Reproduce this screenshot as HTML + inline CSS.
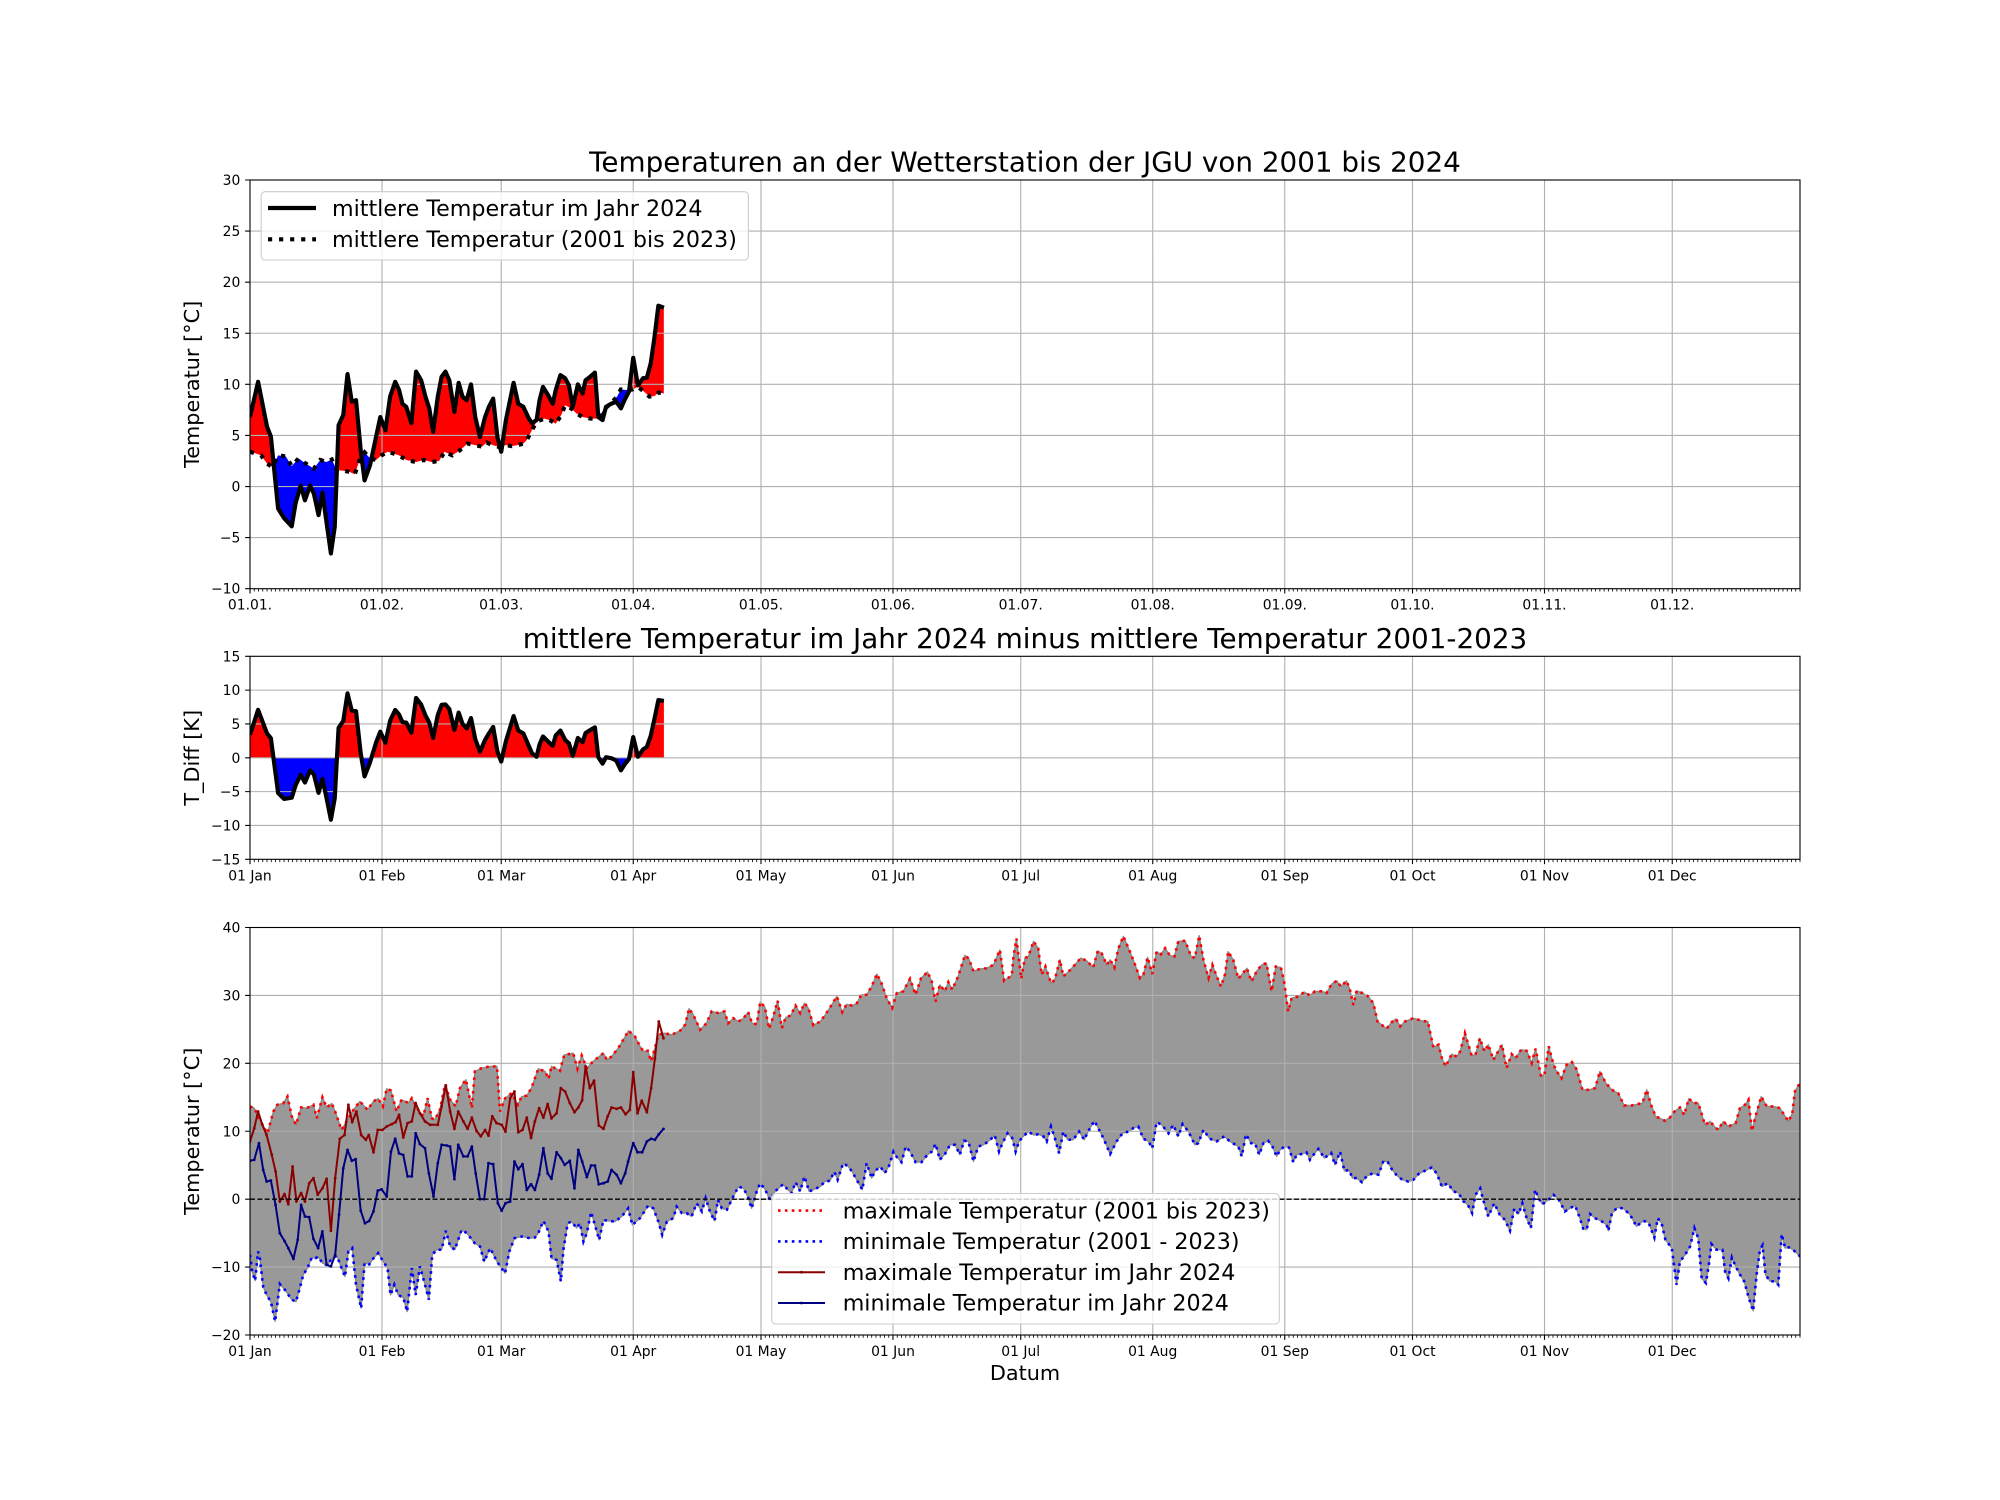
<!DOCTYPE html>
<html><head><meta charset="utf-8">
<style>
html,body{margin:0;padding:0;background:#fff;}
svg{display:block;}
text{font-family:"DejaVu Sans","Liberation Sans",sans-serif;fill:#000;}
.tk{font-size:13.9px;}
.lg{font-size:22.2px;}
.lb{font-size:20.8px;}
.tt{font-size:27.8px;}
</style></head>
<body>
<svg id="s" width="2000" height="1500" viewBox="0 0 2000 1500" xmlns="http://www.w3.org/2000/svg">
<rect width="2000" height="1500" fill="#fff"/>
<defs id="defs">
<clipPath id="ca1"><rect x="250" y="180" width="1550" height="408.7"/></clipPath>
<clipPath id="ca2"><rect x="250" y="656.3" width="1550" height="203"/></clipPath>
<clipPath id="ca3"><rect x="250" y="927.5" width="1550" height="407.5"/></clipPath>
</defs>
<g id="plot"></g>

<!-- Legend axis 1 -->
<rect x="261.2" y="191.7" width="487.2" height="68.3" rx="4" fill="#fff" fill-opacity="0.8" stroke="#cccccc" stroke-width="1.1"/>
<line x1="268" y1="208" x2="316" y2="208" stroke="#000" stroke-width="4.2"/>
<line x1="268" y1="239.3" x2="316" y2="239.3" stroke="#000" stroke-width="4.2" stroke-dasharray="4.17 6.88"/>
<text class="lg" x="332" y="216">mittlere Temperatur im Jahr 2024</text>
<text class="lg" x="332" y="247">mittlere Temperatur (2001 bis 2023)</text>

<!-- Legend axis 3 -->
<rect x="771.7" y="1193.5" width="507.6" height="130.5" rx="4" fill="#fff" fill-opacity="0.8" stroke="#cccccc" stroke-width="1.1"/>
<line x1="778" y1="1210.6" x2="825" y2="1210.6" stroke="#ff0000" stroke-width="2.6" stroke-dasharray="2.6 4.3"/>
<line x1="778" y1="1241.4" x2="825" y2="1241.4" stroke="#0000ff" stroke-width="2.6" stroke-dasharray="2.6 4.3"/>
<line x1="778" y1="1272.2" x2="825" y2="1272.2" stroke="#8b0000" stroke-width="2"/>
<circle cx="801.5" cy="1272.2" r="1.4" fill="#8b0000"/>
<line x1="778" y1="1303" x2="825" y2="1303" stroke="#000080" stroke-width="2"/>
<circle cx="801.5" cy="1303" r="1.4" fill="#000080"/>
<text class="lg" x="842.7" y="1218.3">maximale Temperatur (2001 bis 2023)</text>
<text class="lg" x="842.7" y="1249.1">minimale Temperatur (2001 - 2023)</text>
<text class="lg" x="842.7" y="1279.9">maximale Temperatur im Jahr 2024</text>
<text class="lg" x="842.7" y="1310.7">minimale Temperatur im Jahr 2024</text>

<!-- Titles -->
<text class="tt" x="1025" y="171.7" text-anchor="middle">Temperaturen an der Wetterstation der JGU von 2001 bis 2024</text>
<text class="tt" x="1025" y="648" text-anchor="middle">mittlere Temperatur im Jahr 2024 minus mittlere Temperatur 2001-2023</text>

<!-- Y labels -->
<text class="lb" transform="translate(199,384.35) rotate(-90)" text-anchor="middle">Temperatur [°C]</text>
<text class="lb" transform="translate(199,757.8) rotate(-90)" text-anchor="middle">T_Diff [K]</text>
<text class="lb" transform="translate(199,1131.25) rotate(-90)" text-anchor="middle">Temperatur [°C]</text>
<text class="lb" x="1025" y="1380" text-anchor="middle">Datum</text>

<!-- Y tick labels axis 1 -->
<g class="tk" text-anchor="end">
<text x="240.3" y="185">30</text>
<text x="240.3" y="236.1">25</text>
<text x="240.3" y="287.2">20</text>
<text x="240.3" y="338.3">15</text>
<text x="240.3" y="389.4">10</text>
<text x="240.3" y="440.4">5</text>
<text x="240.3" y="491.5">0</text>
<text x="240.3" y="542.6">−5</text>
<text x="240.3" y="593.7">−10</text>
<!-- axis 2 -->
<text x="240.3" y="661.3">15</text>
<text x="240.3" y="695.1">10</text>
<text x="240.3" y="729">5</text>
<text x="240.3" y="762.8">0</text>
<text x="240.3" y="796.6">−5</text>
<text x="240.3" y="830.5">−10</text>
<text x="240.3" y="864.3">−15</text>
<!-- axis 3 -->
<text x="240.3" y="932.5">40</text>
<text x="240.3" y="1000.4">30</text>
<text x="240.3" y="1068.3">20</text>
<text x="240.3" y="1136.3">10</text>
<text x="240.3" y="1204.2">0</text>
<text x="240.3" y="1272.1">−10</text>
<text x="240.3" y="1340">−20</text>
</g>

<!-- X tick labels -->
<g class="tk" text-anchor="middle">
<text x="250" y="609.7">01.01.</text>
<text x="382" y="609.7">01.02.</text>
<text x="501.2" y="609.7">01.03.</text>
<text x="633.2" y="609.7">01.04.</text>
<text x="761" y="609.7">01.05.</text>
<text x="893" y="609.7">01.06.</text>
<text x="1020.7" y="609.7">01.07.</text>
<text x="1152.7" y="609.7">01.08.</text>
<text x="1284.8" y="609.7">01.09.</text>
<text x="1412.5" y="609.7">01.10.</text>
<text x="1544.5" y="609.7">01.11.</text>
<text x="1672.2" y="609.7">01.12.</text>

<text x="250" y="880.3">01 Jan</text>
<text x="382" y="880.3">01 Feb</text>
<text x="501.2" y="880.3">01 Mar</text>
<text x="633.2" y="880.3">01 Apr</text>
<text x="761" y="880.3">01 May</text>
<text x="893" y="880.3">01 Jun</text>
<text x="1020.7" y="880.3">01 Jul</text>
<text x="1152.7" y="880.3">01 Aug</text>
<text x="1284.8" y="880.3">01 Sep</text>
<text x="1412.5" y="880.3">01 Oct</text>
<text x="1544.5" y="880.3">01 Nov</text>
<text x="1672.2" y="880.3">01 Dec</text>

<text x="250" y="1356">01 Jan</text>
<text x="382" y="1356">01 Feb</text>
<text x="501.2" y="1356">01 Mar</text>
<text x="633.2" y="1356">01 Apr</text>
<text x="761" y="1356">01 May</text>
<text x="893" y="1356">01 Jun</text>
<text x="1020.7" y="1356">01 Jul</text>
<text x="1152.7" y="1356">01 Aug</text>
<text x="1284.8" y="1356">01 Sep</text>
<text x="1412.5" y="1356">01 Oct</text>
<text x="1544.5" y="1356">01 Nov</text>
<text x="1672.2" y="1356">01 Dec</text>
</g>
</svg>
<script>
(function(){
var NS="http://www.w3.org/2000/svg";
var plot=document.getElementById("plot");
var defs=document.getElementById("defs");
function X(d){return 250+d*1550/364;}
function Y1(v){return 180+(30-v)*408.7/40;}
function Y2(v){return 656.3+(15-v)*203/30;}
function Y3(v){return 927.5+(40-v)*407.5/60;}
function el(p,tag,a){var e=document.createElementNS(NS,tag);for(var k in a)e.setAttribute(k,a[k]);p.appendChild(e);return e;}
function pts(a,Y){return a.map(function(p){return X(p[0]).toFixed(2)+","+Y(p[1]).toFixed(2);});}
function line(a,Y){return "M"+pts(a,Y).join("L");}
function interp(a,d){if(d<=a[0][0])return a[0][1];for(var i=1;i<a.length;i++){if(d<=a[i][0]){var t=(d-a[i-1][0])/(a[i][0]-a[i-1][0]);return a[i-1][1]+t*(a[i][1]-a[i-1][1]);}}return a[a.length-1][1];}
var months=[0,31,59,90,120,151,181,212,243,273,304,334];

var blk=[[0,6.8],[1.9,10.25],[4,5.85],[4.9,4.9],[6.6,-2.15],[8,-3.1],[9.8,-3.9],[10.7,-1.65],[11.9,0.1],[12.9,-1.35],[14.1,0.1],[15,-0.7],[16.1,-2.8],[17,-0.6],[17.9,-3.3],[19,-6.55],[19.9,-3.95],[20.8,6.0],[21.9,7.0],[22.9,11.0],[23.9,8.3],[24.9,8.45],[26,3.55],[26.9,0.6],[28.2,2.1],[29.6,4.85],[30.6,6.8],[31.8,5.5],[32.9,8.8],[34.1,10.25],[35,9.45],[35.8,8.1],[36.7,7.8],[37.9,6.2],[39,11.25],[40.2,10.4],[41.2,8.8],[42.1,7.65],[43,5.35],[44.1,8.8],[45,10.75],[45.9,11.25],[46.8,10.4],[48,7.3],[49,10.15],[49.9,8.8],[50.9,8.45],[51.9,10],[52.9,6.8],[54,4.85],[55.2,6.8],[56.1,7.8],[57.1,8.6],[58.1,4.85],[59,3.4],[60.1,6.5],[61.9,10.15],[63,8.1],[64.2,7.8],[65.3,6.8],[66.2,6.2],[67.3,6.5],[68,8.45],[68.8,9.75],[70,8.95],[71.1,8.1],[71.8,9.45],[72.9,10.9],[74,10.6],[74.9,9.9],[75.8,7.8],[77,10],[78.1,9.1],[78.8,10.4],[79.9,10.75],[81,11.15],[81.8,6.8],[82.8,6.5],[83.6,7.8],[84.8,8.1],[86,8.3],[87.1,7.65],[88,8.5],[89,9.3],[90,12.6],[91.1,9.9],[92.3,10.6],[93.2,10.65],[94.1,12.05],[95,14.65],[95.9,17.7],[97.2,17.5]];
var cm=[[0,3.4],[1.3,3.25],[2.6,3.05],[4,2.25],[5.3,1.9],[6.6,3.05],[8.4,2.95],[9.8,2.0],[11.4,2.75],[12.9,2.3],[15,1.75],[16.5,2.6],[17.9,2.4],[19.2,2.65],[20.4,1.6],[21.9,1.55],[23.3,1.45],[24.6,1.2],[26,2.9],[26.9,3.35],[28.2,2.75],[29.6,2.6],[30.9,3.05],[32.3,3.4],[33.6,3.25],[35,3.05],[36.7,2.6],[39,2.4],[40.8,2.6],[42.6,2.4],[44.4,2.5],[45.7,3.4],[47.5,3.05],[49.3,3.55],[51.1,4.2],[52.9,4.05],[54.5,3.9],[55.6,4.3],[57,4.05],[58.3,3.9],[60.1,4.05],[61.5,3.95],[62.8,4.05],[64.2,4.2],[65,4.55],[66,5.35],[67.3,6.35],[69.1,6.65],[70.4,6.5],[71.8,6.15],[73.1,7.0],[74,7.95],[75.4,7.65],[76.7,7.15],[78.1,6.8],[79.9,6.65],[81.7,6.65],[83,7.5],[84.8,8.15],[86.2,8.8],[87.1,9.5],[88.4,9.45],[89.8,9.5],[91.1,9.75],[92.5,9.3],[93.8,8.8],[95,8.85],[96,9.2],[97.2,9.1]];

var cmax=[[0,13.65],[1,13.4],[2.3,11.7],[3.4,10.45],[4.1,9.7],[5.5,12.9],[6.4,13.9],[7.8,14.1],[8.8,15.1],[9.8,12.2],[10.8,10.95],[12,13.5],[13.3,13.4],[14.9,13.9],[15.7,11.9],[17,15.0],[18,13.5],[19.2,14.1],[20,12.9],[21.5,10.2],[22.7,11.45],[24,12.9],[25.8,14.4],[27.6,13.15],[29,14.4],[30.1,14.8],[31.2,13.65],[32.1,16.25],[33.1,16.0],[34.4,12.9],[35.6,14.65],[37.2,14.15],[38,14.85],[39.5,13.15],[40.7,12.2],[41.7,14.85],[42.7,11.9],[43.4,11.7],[44.6,13.15],[45.8,16.85],[47,14.65],[48.3,13.65],[49.3,16.35],[50.7,17.6],[52.1,13.4],[52.8,18.8],[54.4,19.3],[56.4,19.55],[58,19.55],[58.7,12.9],[59.9,14.85],[61.4,15.6],[62.9,13.9],[63.8,15.1],[65,15.25],[66.1,16.35],[67.7,19.2],[69.3,18.8],[70.1,17.7],[70.8,19.55],[72.8,18.9],[73.8,21.25],[74.8,21.35],[75.9,21.5],[76.9,19.2],[77.9,21.15],[79.1,19.3],[80.6,20.3],[83,21.5],[83.8,20.5],[84.9,21.0],[86.5,22.25],[88.9,24.8],[90.4,23.95],[91.6,22.5],[92.4,21.75],[93.4,21.85],[94.2,20.3],[95.1,22.25],[95.9,24.2],[97.3,24.45],[99,24.2],[101,24.8],[102.2,25.7],[103.1,28.05],[104.1,27.15],[105.7,24.95],[107.2,25.9],[108.4,27.65],[110,27.4],[111.4,27.65],[112.3,25.9],[113.5,26.65],[114.7,26.15],[115.9,26.65],[117,27.55],[117.9,25.9],[119,25.75],[119.8,29.0],[120.9,28.3],
[121.9,25.1],[122.9,26.9],[123.9,29.2],[124.9,25.2],[125.8,26.75],[127,27.05],[128.1,28.5],[129.2,27.4],[130.2,28.85],[131.1,28.15],[132.3,25.6],[133.9,26.15],[135,27.05],[136.6,28.6],[137.8,29.85],[139.1,27.55],[140.1,28.7],[141.4,28.5],[142.5,28.85],[143.6,30.1],[144.8,30.1],[146,31.3],[147.2,33.15],[148.3,31.8],[149.5,29.6],[150.8,28.15],[151.9,30.35],[153.4,30.6],[155,32.45],[156.3,30.1],[157.6,32.55],[159.1,33.45],[160.1,32.05],[161,29.1],[162,31.55],[163.2,30.6],[164,31.95],[164.9,30.85],[166.3,32.8],[167.9,35.9],[168.8,35.4],[169.9,33.55],[171.4,33.9],[173,34.0],[174.6,34.5],[176.1,36.7],[177.1,32.15],[178.9,32.95],[179.3,35.75],[180,38.35],[181.1,32.45],[182,35.5],[182.8,35.75],[184,37.95],[185.1,36.95],[185.9,33.05],[186.8,34.25],[188.1,31.8],[189,32.3],[190.2,35.25],[191,32.8],[192.3,33.55],[193.7,34.5],[195.1,35.5],[196.5,35.1],[198,34.1],[199.1,36.55],[200,36.2],[201.2,34.5],[202,35.25],[203,34.1],[203.9,36.85],[205.1,38.7],[206.3,36.95],[207.4,35.25],[209,32.55],[209.8,33.05],[210.8,35.6],[211.9,33.15],[212.9,36.45],[213.9,36.05],[214.9,36.95],[216,35.9],[217.1,35.75],[218,37.95],[219.6,38.05],[221,35.75],[221.9,35.5],[222.9,38.8],[223.9,35.25],[225.1,32.55],[226,34.5],[226.8,33.15],[228,31.3],[229,33.15],[229.7,36.45],[230.9,35.25],[232.1,32.45],[232.9,33.05],[234.1,34.0],[235.2,32.05],[236.4,33.55],[237.6,34.5],[238.7,34.75],[239.9,30.6],[240.9,34.25],[242.1,34.1],[242.9,31.8],
[243.8,27.65],[244.6,29.6],[246.2,29.85],[247.6,30.5],[248.9,30.0],[250.1,30.6],[251.7,30.6],[252.8,30.35],[254,31.65],[255.2,32.15],[256.2,31.3],[257.5,32.15],[258.3,30.85],[259.1,28.6],[259.9,30.7],[261.2,30.35],[262.6,29.85],[263.8,28.85],[264.8,26.15],[265.8,25.65],[266.9,25.1],[268.1,26.05],[269.1,26.55],[270.1,25.45],[271.2,26.15],[273.2,26.65],[275.2,26.25],[276.6,26.15],[277.9,22.35],[279.1,22.75],[279.9,20.75],[280.8,19.55],[282.2,21.35],[283.4,21.0],[284.2,21.75],[285.3,24.45],[286.9,21.15],[287.8,21.25],[288.8,23.7],[289.9,21.75],[290.8,22.75],[292,20.5],[294,22.75],[295.1,19.3],[296.3,21.35],[297.2,20.75],[298.5,22.0],[299.8,21.85],[301,20.05],[301.9,22.15],[303.2,18.05],[304,18.4],[305,22.5],[305.7,20.75],[306.6,19.05],[308,17.8],[309.2,19.8],[310.4,20.2],[311.6,19.05],[312.9,16.1],[314.3,16.1],[315.9,16.35],[317,18.8],[318.4,17.1],[319.8,16.1],[321.3,15.6],[322.7,13.8],[324.5,13.8],[325.9,14.0],[327,14.15],[328,16.1],[329,13.9],[330.1,12.2],[332.3,11.55],[333.5,12.05],[334.5,12.9],[335.8,13.5],[336.8,12.4],[337.9,14.8],[339,14.15],[340.1,14.15],[341.7,10.95],[342.9,11.45],[343.9,10.7],[344.8,10.2],[346,11.45],[347.2,10.7],[348.9,11.2],[349.9,13.4],[351.1,13.9],[351.9,14.65],[352.7,10.05],[353.5,12.05],[354.9,15.1],[356.2,13.65],[357.8,13.65],[359.3,13.4],[360.5,12.2],[361.3,11.45],[362.2,12.65],[362.8,15.85],[363.6,16.75],[364.1,16.85]];

var cmin=[[0,-8.2],[0.5,-10.65],[1.2,-12.0],[1.9,-7.7],[2.3,-8.7],[3.1,-12.9],[3.9,-14.1],[4.9,-15.1],[5.9,-18.0],[6.4,-15.55],[7,-12.5],[8.2,-13.35],[9.8,-14.8],[10.8,-15.1],[11.7,-13.1],[12.5,-11.15],[13.5,-10.15],[14.5,-8.6],[15.4,-8.7],[16,-8.45],[17,-9.4],[18.2,-9.75],[19.2,-8.7],[20.4,-8.35],[21.5,-10.15],[22.3,-11.4],[23.1,-7.7],[24,-7.2],[24.9,-12.6],[26.1,-16.05],[26.9,-9.4],[28,-9.6],[29,-8.7],[30.1,-7.95],[31.3,-9.2],[32.3,-10.15],[33,-14.1],[33.9,-12.6],[34.8,-14.1],[36,-14.5],[36.9,-16.55],[38,-10.15],[38.9,-14.1],[39.9,-9.9],[41.1,-12.6],[42,-14.8],[42.8,-8.2],[43.8,-7.45],[45,-7.45],[46,-4.65],[47,-6.95],[48.1,-7.45],[49.7,-4.5],[50.9,-5.0],[52.8,-6.5],[54,-6.95],[55,-9.2],[56.4,-7.2],[58,-9.2],[59.9,-10.9],[60.9,-7.7],[62.1,-5.75],[63.8,-5.5],[65.8,-5.75],[66.9,-5.65],[67.7,-5.0],[68.9,-3.2],[70.1,-4.75],[70.8,-8.7],[72,-8.95],[73,-12.1],[73.6,-7.45],[74.6,-3.55],[75.5,-3.3],[76.7,-4.25],[77.5,-3.55],[78.3,-6.25],[79.1,-5.0],[80.1,-1.9],[81,-3.8],[82,-6.0],[83,-3.05],[84.1,-3.2],[85.7,-3.3],[87.3,-2.55],[88.8,-1.35],[89.8,-3.8],[91.6,-2.8],[93.5,-0.95],[94.7,-1.35],[95.9,-3.3],[96.8,-5.25],[97.9,-3.3],[99.4,-2.8],[100.2,-1.1],[101.4,-2.05],[102.5,-2.05],[103.7,-2.55],[104.9,-0.6],[106.1,-1.8],[107,0.15],[108,-1.8],[109.1,-3.2],[109.9,-0.1],[110.8,-1.35],[112,-1.55],[113.3,0.15],[114.7,1.85],[115.9,1.6],[116.9,0.4],[117.8,-1.35],[119,1.15],[119.8,2.35],[120.9,1.5],
[122.1,-0.1],[123.3,1.15],[125.2,2.2],[126.3,1.4],[127.2,0.9],[128.1,2.5],[129.2,1.15],[130.2,3.35],[131.3,1.15],[132.3,1.4],[133.9,1.85],[135,2.6],[136.2,2.7],[137.2,4.05],[138,2.85],[139.3,5.3],[140.5,4.8],[141.4,4.05],[142.7,2.6],[143.8,1.4],[144.8,5.3],[146,3.1],[146.8,4.15],[148,4.8],[149.1,3.85],[150.1,4.95],[151.1,7.0],[151.9,6.2],[153,5.45],[154,7.75],[155,7.0],[156.3,5.45],[157.7,5.45],[159.1,6.55],[160.1,7.0],[161,8.15],[162,5.8],[163.2,6.65],[164.4,8.0],[165.6,8.0],[166.7,6.55],[167.7,8.6],[168.7,8.5],[169.9,5.55],[171,7.75],[172.2,8.0],[173.4,8.5],[174.9,9.4],[175.9,7.0],[176.7,8.25],[177.9,9.7],[179,9.0],[179.8,7.0],[180.6,8.5],[181.6,9.25],[182.8,9.95],[184,9.45],[185.1,9.55],[186.3,9.25],[187.1,8.5],[188.1,10.7],[189,9.0],[190,6.75],[191,9.95],[192,8.75],[193.3,8.75],[194.7,9.95],[195.9,8.75],[196.9,10.05],[198.3,11.55],[199.2,10.45],[200.4,9.0],[202,6.65],[203.5,8.5],[204.9,9.7],[206.3,9.95],[207.4,10.45],[208.6,10.7],[209.8,8.9],[211,8.5],[211.9,7.5],[212.9,11.35],[214.1,10.95],[215.7,9.7],[216.8,10.95],[218,9.25],[219,11.05],[220.4,9.95],[221.9,8.0],[222.7,8.25],[223.9,10.2],[225.4,8.9],[227,8.5],[228.8,9.25],[230.1,8.5],[232.1,7.75],[232.9,6.3],[233.9,9.55],[235.1,8.25],[236,8.25],[237,6.55],[238,8.25],[239.1,8.6],[240.1,7.75],[241.1,6.3],[241.9,7.25],[242.9,7.75],
[244,7.6],[245,5.45],[245.8,6.55],[247,6.65],[248.1,6.9],[248.9,5.8],[249.9,6.65],[250.9,7.4],[252.3,6.05],[253.9,6.8],[254.8,5.05],[256,7.0],[257,4.15],[258.1,4.3],[258.9,3.1],[259.9,3.1],[261.1,2.5],[262.2,3.35],[263.6,3.8],[265,3.6],[266.2,5.65],[267.2,5.45],[268.1,4.45],[269.3,3.5],[270.6,2.85],[272,2.6],[273.2,2.85],[274.4,3.7],[275.8,4.15],[277.5,4.65],[278.7,3.8],[279.9,1.85],[281.3,2.35],[282.6,1.15],[283.8,0.9],[285,-0.35],[286,-0.85],[287,-2.05],[287.8,0.65],[288.9,1.6],[289.6,-0.1],[290.8,-2.55],[292.2,-0.6],[293.5,-2.3],[294.7,-3.05],[295.9,-4.65],[296.9,-1.35],[297.9,-2.2],[298.8,-0.6],[299.8,-2.8],[300.8,-4.25],[301.8,1.4],[302.6,0.15],[303.5,-0.75],[304.9,-0.1],[306.1,0.65],[307.4,-0.1],[308.8,-1.8],[310.2,-1.25],[311.2,-0.95],[312.3,-2.8],[313.1,-4.35],[313.9,-4.5],[314.7,-2.2],[315.9,-2.8],[317.3,-3.2],[318.6,-3.8],[319,-4.65],[319.8,-2.2],[321,-1.25],[322.5,-1.35],[324.1,-2.3],[325.6,-4.0],[327.2,-3.2],[328.4,-3.4],[329.8,-5.65],[330.6,-2.8],[331.5,-3.55],[332.4,-6.0],[333.9,-7.2],[334.5,-10.15],[335,-12.6],[335.8,-9.2],[337,-8.2],[338.2,-6.95],[339.2,-4.25],[340.1,-5.75],[340.9,-11.65],[341.9,-12.35],[342.6,-9.65],[343.2,-6.6],[344.4,-7.45],[345.8,-7.45],[346.4,-10.65],[347.2,-11.65],[348,-8.6],[348.7,-9.65],[349.7,-10.9],[350.9,-12.1],[352,-14.6],[353,-16.45],[353.8,-11.15],[354.6,-7.45],[355.2,-6.8],[355.9,-11.15],[357,-12.1],[358.2,-12.1],[358.9,-12.6],[359.7,-5.15],[360.5,-7.2],[361.4,-7.1],[362.4,-7.45],[363.6,-8.2],[364.1,-8.45]];

var mx24=[[0,8.5],[1,10.45],[1.9,12.9],[2.9,10.95],[3.9,9.45],[5.1,6.55],[6,4.1],[7,-0.35],[8.1,0.75],[9,-0.75],[10,4.8],[10.9,-0.35],[12,0.9],[12.9,-0.35],[13.9,2.35],[14.9,3.1],[15.9,0.65],[17,1.6],[18,3.0],[19,-4.65],[20,3.1],[21.1,8.9],[22.2,9.45],[23.1,13.9],[24,11.35],[25,12.9],[26.1,9.45],[27.2,8.75],[27.9,9.45],[29,6.9],[30,10.2],[31.1,10.2],[32.1,10.7],[33.3,11.05],[34.2,11.35],[35,12.4],[36,9.1],[37,11.2],[38,11.45],[38.9,14.15],[39.9,12.65],[41.1,11.45],[42.3,10.95],[44.1,10.95],[45,13.65],[46,16.75],[47,12.9],[48,10.35],[48.9,12.9],[50.1,11.45],[51.1,10.35],[52.1,12.0],[53.2,10.05],[54.2,9.25],[55.2,10.2],[56,9.35],[56.9,12.2],[57.9,11.2],[59.1,10.95],[60,9.95],[61.1,14.9],[62.1,15.85],[63,9.85],[64,10.2],[65,12.0],[66,9.0],[66.9,11.45],[67.9,13.4],[68.9,12.0],[69.9,14.0],[70.8,11.9],[72,12.65],[73,16.35],[74,15.85],[75.1,14.15],[76.2,12.8],[77.1,13.5],[78,14.55],[78.8,19.55],[79.8,16.35],[80.8,17.45],[81.9,10.85],[83,10.35],[84,12.2],[84.9,13.5],[86.1,13.3],[87.1,13.5],[88.2,12.5],[89.2,13.15],[90,18.7],[91,12.65],[92,14.5],[93.2,12.8],[94.2,16.35],[95.1,20.75],[96,26.15],[97.1,23.7]];
var mn24=[[0,5.65],[1,5.8],[2.1,8.25],[3.1,4.3],[3.9,2.6],[4.9,2.75],[6,-0.85],[7,-5.0],[8.1,-6.15],[9,-7.2],[10.2,-8.8],[11.2,-6.0],[12,-0.85],[12.9,-2.55],[13.9,-2.65],[14.9,-5.85],[16,-7.2],[17,-4.75],[18,-9.65],[19,-9.9],[20,-8.2],[20.9,-2.3],[21.9,4.55],[22.9,7.25],[23.9,5.65],[24.8,5.9],[26,-1.7],[27,-3.55],[28,-3.2],[29,-1.8],[30,1.25],[30.9,1.45],[32.1,0.4],[33.1,7.0],[34.1,8.9],[35,6.75],[36,6.5],[37,3.35],[38,3.35],[38.9,9.7],[39.9,8.1],[41.1,7.5],[42,3.8],[43.1,0.4],[44.1,5.3],[45,8.0],[46.2,7.9],[47,7.75],[48,2.95],[48.9,8.0],[50.1,6.3],[51.1,6.3],[52.1,7.75],[53,3.8],[54,0.0],[55,0.0],[56,5.3],[57.1,5.15],[58.2,-0.6],[59.1,-1.7],[60,-0.6],[61.1,-0.35],[62.1,5.55],[63,4.4],[64,5.15],[65,1.35],[66,2.2],[66.9,1.35],[67.9,3.6],[68.9,7.5],[69.9,3.8],[70.8,3.0],[72,6.9],[73,6.05],[73.9,5.05],[75.1,5.65],[76.2,1.6],[77.1,7.25],[78,5.55],[79.1,3.25],[80.1,4.95],[81,4.95],[81.9,2.2],[83,2.35],[84,2.6],[84.9,4.3],[86.1,3.6],[87.1,2.35],[88.1,3.8],[88.8,5.55],[90,8.25],[91,6.9],[92.1,6.9],[93.2,8.5],[94.2,8.9],[95.1,8.75],[96,9.55],[97.1,10.35]];

function f(n){return n.toFixed(2);}
function grid(g,ys,yTop,yBot){
  var d="";
  months.forEach(function(m){if(m>0)d+="M"+f(X(m))+","+yTop+"V"+yBot;});
  ys.forEach(function(y){d+="M250,"+f(y)+"H1800";});
  el(g,"path",{d:d,stroke:"#b0b0b0","stroke-width":"1.1",fill:"none"});
}
function frame(g,yTop,yBot,yts){
  el(g,"rect",{x:250,y:yTop,width:1550,height:yBot-yTop,fill:"none",stroke:"#000","stroke-width":"1.1"});
  var dmin="",dmaj="";
  for(var d=0;d<=364;d++){ if(months.indexOf(d)>=0) continue; dmin+="M"+f(X(d))+","+yBot+"v2.78";}
  months.forEach(function(m){dmaj+="M"+f(X(m))+","+yBot+"v4.86";});
  yts.forEach(function(y){dmaj+="M250,"+f(y)+"h-4.86";});
  el(g,"path",{d:dmin,stroke:"#000","stroke-width":"0.83",fill:"none"});
  el(g,"path",{d:dmaj,stroke:"#000","stroke-width":"1.1",fill:"none"});
}
function clip(id,d){var c=el(defs,"clipPath",{id:id});el(c,"path",{d:d});}

/* ---------- Axis 1 ---------- */
var g1=el(plot,"g",{"clip-path":"url(#ca1)"});
var b0=f(X(blk[0][0])),bL=f(X(blk[blk.length-1][0]));
var c0=f(X(cm[0][0])),cL=f(X(cm[cm.length-1][0]));
clip("aboveClim",line(cm,Y1)+"L"+cL+",170L"+c0+",170Z");
clip("aboveBlk",line(blk,Y1)+"L"+bL+",170L"+b0+",170Z");
el(g1,"path",{d:line(blk,Y1)+"L"+bL+",600L"+b0+",600Z",fill:"#ff0000","clip-path":"url(#aboveClim)"});
el(g1,"path",{d:line(cm,Y1)+"L"+cL+",600L"+c0+",600Z",fill:"#0000ff","clip-path":"url(#aboveBlk)"});
var ys1=[];for(var v=25;v>=-5;v-=5)ys1.push(Y1(v));
grid(g1,ys1,180,588.7);
el(g1,"path",{d:line(cm,Y1),fill:"none",stroke:"#000","stroke-width":"4.17","stroke-dasharray":"4.17 6.88"});
el(g1,"path",{d:line(blk,Y1),fill:"none",stroke:"#000","stroke-width":"4.17","stroke-linejoin":"round"});
var yt1=[];for(var v=30;v>=-10;v-=5)yt1.push(Y1(v));
frame(plot,180,588.7,yt1);

/* ---------- Axis 2 ---------- */
var g2=el(plot,"g",{"clip-path":"url(#ca2)"});
var dif=blk.map(function(p){return [p[0],p[1]-interp(cm,p[0])];});
var y0=Y2(0);
var dd=line(dif,Y2);
var cpPos=el(defs,"clipPath",{id:"pos2"});el(cpPos,"rect",{x:240,y:640,width:1600,height:y0-640});
var cpNeg=el(defs,"clipPath",{id:"neg2"});el(cpNeg,"rect",{x:240,y:y0,width:1600,height:880-y0});
el(g2,"path",{d:dd+"L"+bL+",880L"+b0+",880Z",fill:"#ff0000","clip-path":"url(#pos2)"});
el(g2,"path",{d:dd+"L"+bL+",640L"+b0+",640Z",fill:"#0000ff","clip-path":"url(#neg2)"});
var ys2=[];for(var v=10;v>=-10;v-=5)ys2.push(Y2(v));
grid(g2,ys2,656.3,859.3);
el(g2,"path",{d:dd,fill:"none",stroke:"#000","stroke-width":"4.17","stroke-linejoin":"round"});
var yt2=[];for(var v=15;v>=-15;v-=5)yt2.push(Y2(v));
frame(plot,656.3,859.3,yt2);

/* ---------- Axis 3 ---------- */
var g3=el(plot,"g",{"clip-path":"url(#ca3)"});
var rev=cmin.slice().reverse();
el(g3,"path",{d:line(cmax,Y3)+"L"+pts(rev,Y3).join("L")+"Z",fill:"#999999",stroke:"#868686","stroke-width":"1.3","stroke-linejoin":"round"});
var ys3=[];for(var v=30;v>=-10;v-=10)ys3.push(Y3(v));
grid(g3,ys3,927.5,1335);
el(g3,"path",{d:line(cmax,Y3),fill:"none",stroke:"#ff0000","stroke-width":"2.6","stroke-dasharray":"2.6 4.3"});
el(g3,"path",{d:line(cmin,Y3),fill:"none",stroke:"#0000ff","stroke-width":"2.6","stroke-dasharray":"2.6 4.3"});
el(g3,"path",{d:line(mx24,Y3),fill:"none",stroke:"#8b0000","stroke-width":"2","stroke-linejoin":"round"});
el(g3,"path",{d:line(mn24,Y3),fill:"none",stroke:"#000080","stroke-width":"2","stroke-linejoin":"round"});
mx24.forEach(function(p){el(g3,"circle",{cx:f(X(p[0])),cy:f(Y3(p[1])),r:"1.4",fill:"#8b0000"});});
mn24.forEach(function(p){el(g3,"circle",{cx:f(X(p[0])),cy:f(Y3(p[1])),r:"1.4",fill:"#000080"});});
el(g3,"path",{d:"M250,"+f(Y3(0))+"H1800",stroke:"#000","stroke-width":"1.39","stroke-dasharray":"5.1 2.2",fill:"none"});
var yt3=[];for(var v=40;v>=-20;v-=10)yt3.push(Y3(v));
frame(plot,927.5,1335,yt3);
})();
</script>
</body></html>
